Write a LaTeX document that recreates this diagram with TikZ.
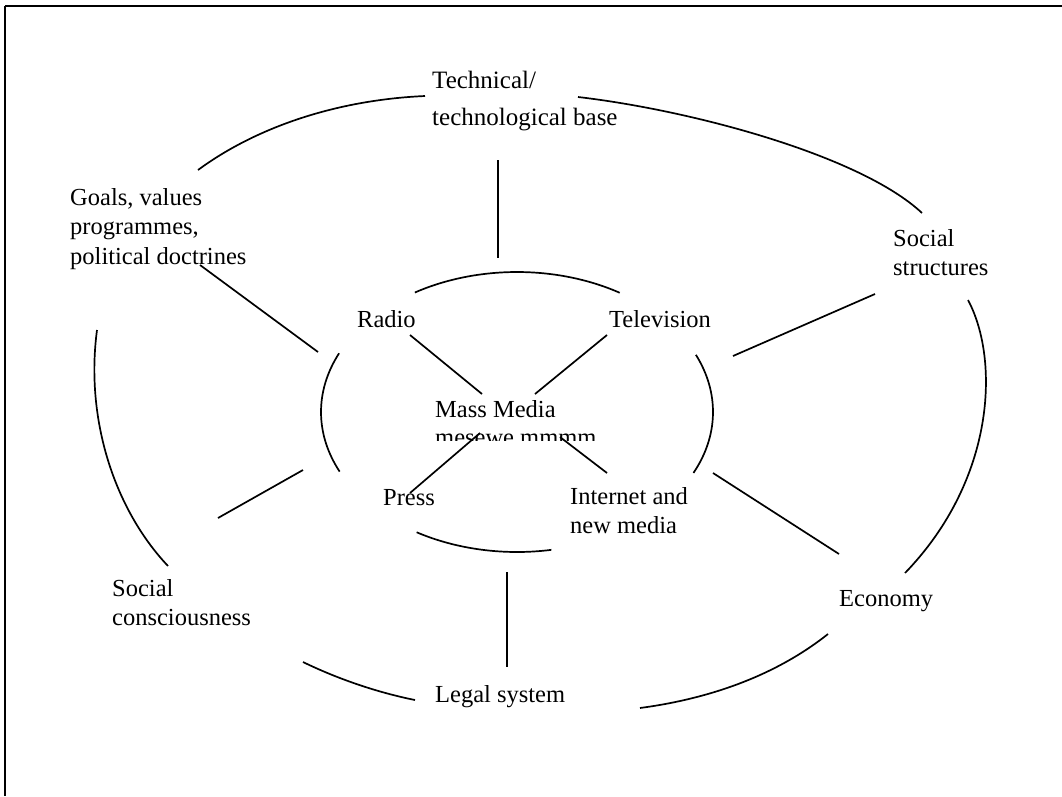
\documentclass[tikz,border=0pt]{standalone}
\usepackage{fontspec}
\setmainfont{Liberation Serif}
\usetikzlibrary{calc}

% left aligned block whose baseline is that of its first line
\newcommand{\stackl}[1]{\vtop{\halign{##\hfil\cr#1\crcr}}}

\begin{document}
\begin{tikzpicture}[x=1pt, y=-1pt,
    lbl/.style={anchor=base west, inner sep=0pt, font=\fontsize{24.5pt}{29.5pt}\selectfont},
    conn/.style={line width=1.7pt},
    arcline/.style={line width=1.7pt}]

	% page size and the frame (top and left edge only)
	\useasboundingbox (0,0) rectangle (1062,796);
	\draw[line width=2pt] (5,6) -- (1062,6);
	\draw[line width=1.5pt] (5,6) -- (5,796);

	% outer ring labels
	\node[lbl, font=\fontsize{25pt}{37pt}\selectfont] (tech) at (432,88) {\stackl{Technical/\cr technological base}};
	\node[lbl] (goals) at (70,205) {\stackl{Goals, values\cr programmes,\cr political doctrines}};
	\node[lbl] (struct) at (893,246) {\stackl{Social\cr structures}};
	\node[lbl] (consc) at (112,596) {\stackl{Social\cr consciousness}};
	\node[lbl] (econ) at (839,606) {Economy};
	\node[lbl] (legal) at (435,702) {Legal system};

	% inner ring labels
	\node[lbl] (radio) at (357,327) {Radio};
	\node[lbl] (tv) at (609,327) {Television};
	\node[lbl] (mass) at (435,417) {Mass Media};
	\node[lbl] (press) at (383,505) {Press};
	\node[lbl] (net) at (570,504) {\stackl{Internet and\cr new media}};

	% the line under Mass Media, cut off by the box below it
	\begin{scope}
		\clip (430,428) rectangle (605,440);
		\node[lbl] (massb) at (435,445) {mesewe mmmm};
	\end{scope}

	% outer ring, drawn in pieces
	\draw[arcline] (198,170) .. controls (255,128) and (335,100) .. (425,96);
	\draw[arcline] (578,97) .. controls (690,110) and (860,155) .. (922,213);
	\draw[arcline] (968,300) .. controls (1000,360) and (995,480) .. (905,573);
	\draw[arcline] (828,634) .. controls (770,680) and (700,700) .. (640,708);
	\draw[arcline] (303,662) .. controls (340,680) and (380,693) .. (415,700);
	\draw[arcline] (97,330) .. controls (85,420) and (115,510) .. (168,566);

	% inner ring, four pieces of one ellipse
	\coordinate (inner) at (517,412);
	\foreach \a/\b in {-121.4/-58.4, 204.8/154.8, -24.1/25.8, 120.8/79.9}
		\draw[arcline] (inner) ++(\a:196 and 140) arc[start angle=\a, end angle=\b, x radius=196, y radius=140];

	% end points of the spokes
	\coordinate (tech-a) at (498,160);   \coordinate (tech-b) at (498,258);
	\coordinate (goals-a) at (200,265);  \coordinate (goals-b) at (318,352);
	\coordinate (struct-a) at (875,294); \coordinate (struct-b) at (733,356);
	\coordinate (consc-a) at (218,518);  \coordinate (consc-b) at (303,470);
	\coordinate (econ-a) at (713,473);   \coordinate (econ-b) at (839,554);
	\coordinate (legal-a) at (507,572);  \coordinate (legal-b) at (507,667);
	\coordinate (radio-a) at (410,335);  \coordinate (radio-b) at (482,394);
	\coordinate (tv-a) at (607,335);     \coordinate (tv-b) at (535,394);
	\coordinate (press-a) at (410,493);  \coordinate (press-b) at (480,433);
	\coordinate (net-a) at (607,473);    \coordinate (net-b) at (560,437);

	\foreach \s in {tech, goals, struct, consc, econ, legal, radio, tv, press, net}
		\draw[conn] (\s-a) -- (\s-b);

\end{tikzpicture}
\end{document}
